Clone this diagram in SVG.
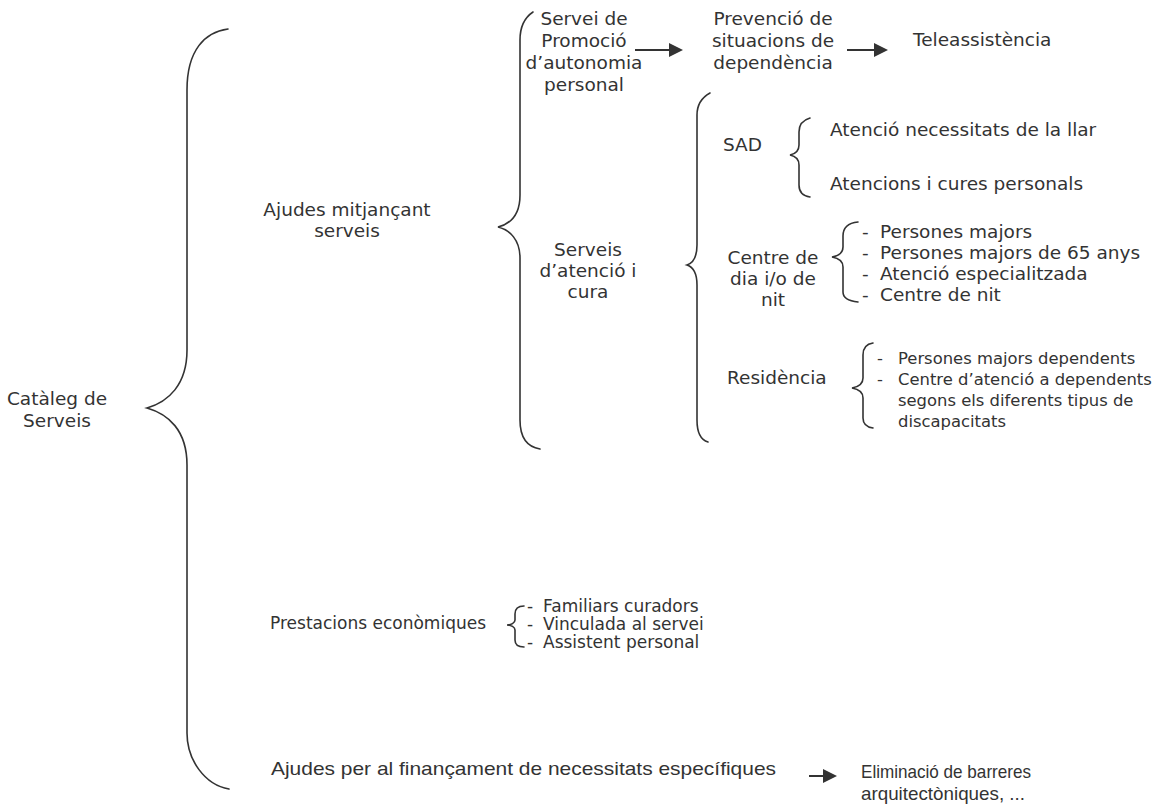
<svg xmlns="http://www.w3.org/2000/svg" width="1153" height="811" viewBox="0 0 1153 811">
<defs>
<style>
text{font-family:"DejaVu Sans",Verdana,sans-serif;font-size:18.5px;fill:#333}
.c{text-anchor:middle}
.s{font-size:17px}
.r{font-size:16.4px}
.n{font-family:"Liberation Sans",Arial,sans-serif;font-size:19px}
.br{fill:none;stroke:#333;stroke-width:1.6;stroke-linecap:round}
.ar{fill:none;stroke:#333;stroke-width:2}
</style>
<marker id="ah" markerWidth="14" markerHeight="14" refX="0" refY="7" orient="auto" markerUnits="userSpaceOnUse">
<path d="M0,0 L14,7 L0,14 Z" fill="#333"/>
</marker>
</defs>
<rect width="1153" height="811" fill="#fff"/>
<g id="connectors">
<path class="br" d="M228,29 C205,32 187,50 187,90 L187,350 C187,385 168,402 147,408 C168,414 187,430 187,465 L187,733 C187,760 205,785 229,789"/>
<path class="br" d="M533,12 C524,18 520,28 520,40 L520,195 C520,215 510,224 498,227 C510,230 520,240 520,258 L520,420 C520,438 528,447 540,449"/>
<path class="br" d="M710,93 C701,98 697,105 697,115 L697,245 C697,257 693,263 687,265 C693,267 697,273 697,285 L697,420 C697,433 701,440 708,442"/>
<path class="br" d="M810,118 C803,120 799,125 799,132 L799,145 C799,151 795,154 790,155 C795,156 799,159 799,165 L799,185 C799,192 803,196 810,197"/>
<path class="br" d="M858,222 C848,223 843,228 843,236 L843,247 C843,253 838,256 832,257 C838,258 843,261 843,267 L843,292 C843,298 848,301 858,302"/>
<path class="br" d="M873,343 C866,344 863,348 863,355 L863,378 C863,384 858,387 852,388 C858,389 863,392 863,398 L863,418 C863,424 866,427 873,428"/>
<path class="br" d="M524,606 C518,606 515,609 515,614 L515,620 C515,623 511,625 507,625 C511,625 515,627 515,630 L515,640 C515,644 518,647 524,647"/>
<line class="ar" x1="635" y1="50" x2="669" y2="50" marker-end="url(#ah)"/>
<line class="ar" x1="847" y1="50" x2="874" y2="50" marker-end="url(#ah)"/>
<line class="ar" x1="809" y1="776" x2="823" y2="776" marker-end="url(#ah)"/>
</g>
<g id="cataleg"><text class="c" x="57" y="405">Catàleg de</text><text class="c" x="57" y="427">Serveis</text></g>
<g id="ajudes-serveis"><text class="c" x="347" y="216">Ajudes mitjançant</text><text class="c" x="347" y="237">serveis</text></g>
<g id="promocio"><text class="c" x="584" y="25">Servei de</text><text class="c" x="584" y="47">Promoció</text><text class="c" x="584" y="69">d’autonomia</text><text class="c" x="584" y="91">personal</text></g>
<g id="prevencio"><text class="c" x="773" y="25">Prevenció de</text><text class="c" x="773" y="47">situacions de</text><text class="c" x="773" y="69">dependència</text></g>
<g id="teleassistencia"><text x="913" y="46">Teleassistència</text></g>
<g id="atencio-cura"><text class="c" x="588" y="256">Serveis</text><text class="c" x="588" y="277">d’atenció i</text><text class="c" x="588" y="298">cura</text></g>
<g id="sad"><text x="723" y="151">SAD</text><text x="830" y="136">Atenció necessitats de la llar</text><text x="830" y="190">Atencions i cures personals</text></g>
<g id="centre-dia"><text class="c" x="773" y="264">Centre de</text><text class="c" x="773" y="285">dia i/o de</text><text class="c" x="773" y="306">nit</text>
<text x="862" y="238">-</text><text x="880" y="238">Persones majors</text>
<text x="862" y="259">-</text><text x="880" y="259">Persones majors de 65 anys</text>
<text x="862" y="280">-</text><text x="880" y="280">Atenció especialitzada</text>
<text x="862" y="301">-</text><text x="880" y="301">Centre de nit</text></g>
<g id="residencia"><text x="727" y="384">Residència</text>
<text class="r" x="877" y="364">-</text><text class="r" x="898" y="364">Persones majors dependents</text>
<text class="r" x="877" y="385">-</text><text class="r" x="898" y="385">Centre d’atenció a dependents</text>
<text class="r" x="898" y="406">segons els diferents tipus de</text>
<text class="r" x="898" y="427">discapacitats</text></g>
<g id="prestacions"><text class="s" x="270" y="629">Prestacions econòmiques</text>
<text class="s" x="527" y="612">-</text><text class="s" x="543" y="612">Familiars curadors</text>
<text class="s" x="527" y="630">-</text><text class="s" x="543" y="630">Vinculada al servei</text>
<text class="s" x="527" y="648">-</text><text class="s" x="543" y="648">Assistent personal</text></g>
<g id="financament"><text class="n" x="271" y="775" textLength="505" lengthAdjust="spacingAndGlyphs">Ajudes per al finançament de necessitats específiques</text></g>
<g id="eliminacio"><text class="n" x="861" y="778" textLength="170" lengthAdjust="spacingAndGlyphs">Eliminació de barreres</text><text class="n" x="861" y="800" textLength="164" lengthAdjust="spacingAndGlyphs">arquitectòniques, ...</text></g>
</svg>
